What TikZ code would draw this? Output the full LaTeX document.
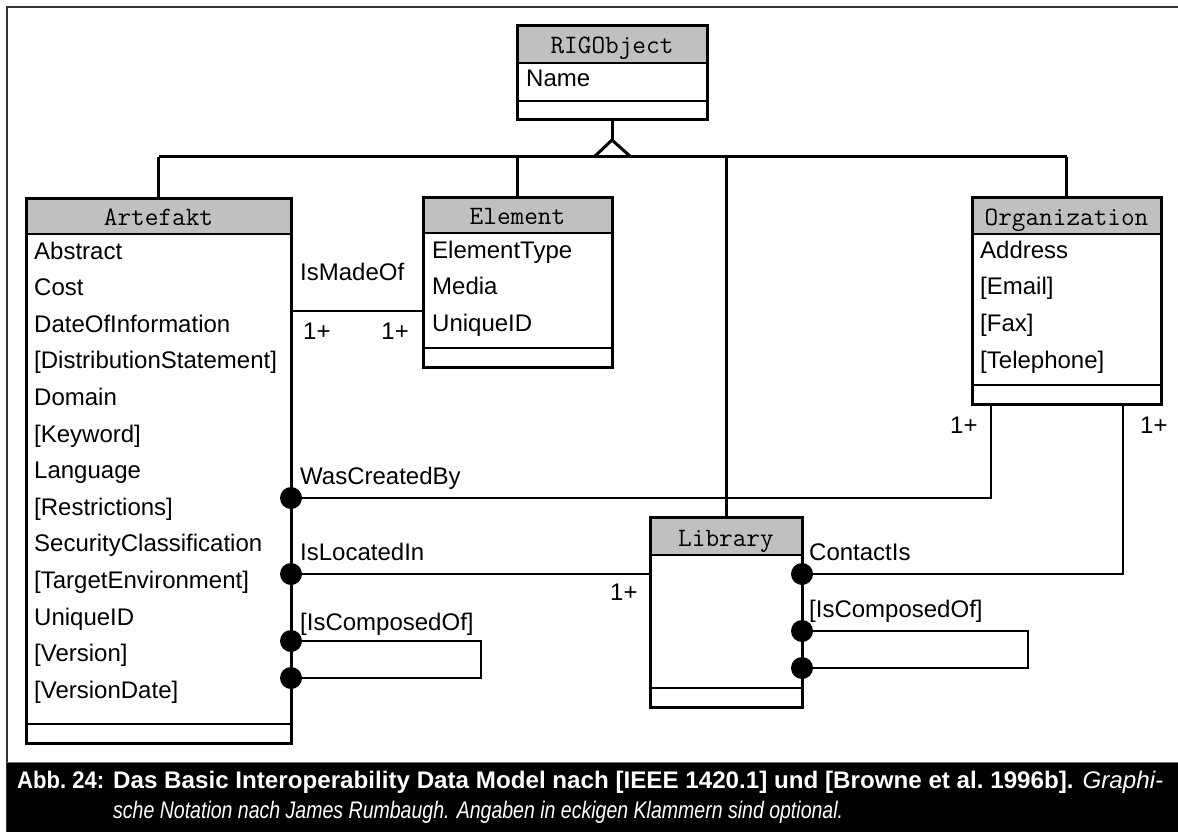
\documentclass[tikz,border=0pt]{standalone}
\usepackage{fontspec}
\setmainfont{Liberation Sans}
\usetikzlibrary{calc,fit}
\definecolor{hdrgray}{RGB}{192,192,192}

% class box: name, left, top, right, bottom, header bottom, separator, title
\newcommand{\umlclass}[8]{%
  \fill[hdrgray] (#2,#3) rectangle (#4,#6);
  \draw[sepline] (#2,#6) -- (#4,#6);
  \draw[sepline] (#2,#7) -- (#4,#7);
  \coordinate (#1-nw) at (#2,#3);
  \coordinate (#1-se) at (#4,#5);
  \node[classframe, fit=(#1-nw)(#1-se)] (#1) {};
  \node[classtitle] (#1-title) at ({(#2+#4)/2},{#6-9}) {#8};
}

\begin{document}
\begin{tikzpicture}[x=1pt,y=-1pt,
  classframe/.style={draw, line width=3pt, inner sep=0pt, outer sep=0pt},
  sepline/.style={line width=2pt},
  classtitle/.style={font=\fontsize{26.5}{26.5}\ttfamily, anchor=base, inner sep=0pt},
  attr/.style={font=\fontsize{24}{24}\selectfont, anchor=base west, inner sep=0pt},
  lbl/.style={font=\fontsize{24}{24}\selectfont, anchor=base west, inner sep=0pt},
  captext/.style={anchor=base west, inner sep=0pt, text=white},
  rel/.style={line width=1.6pt},
  inherit/.style={line width=3pt},
  ball/.style={fill=black}]

\useasboundingbox (0,0) rectangle (1178,832);
\fill[white] (0,0) rectangle (1178,832);

% outer frame
\draw[line width=2.5pt, black!80] (7,832) -- (7,7) -- (1178,7);

% classes
\umlclass{rig}{517}{26}{707}{120}{63}{101}{RIGObject}
\umlclass{art}{26}{198}{291}{743}{234}{724}{Artefakt}
\umlclass{elem}{423}{197}{612}{367}{233}{348}{Element}
\umlclass{org}{972}{197}{1161}{404}{234}{385}{Organization}
\umlclass{lib}{650}{517}{802}{707}{555}{688}{Library}

% attributes
\node[attr] (rig-a1) at (526,87) {Name};
\foreach \t [count=\i] in {{Abstract},{Cost},{DateOfInformation},{[DistributionStatement]},{Domain},{[Keyword]},{Language},{[Restrictions]},{SecurityClassification},{[TargetEnvironment]},{UniqueID},{[Version]},{[VersionDate]}}
  \node[attr] (art-a\i) at (34,{259+36.6*(\i-1)}) {\t};
\foreach \t [count=\i] in {{ElementType},{Media},{UniqueID}}
  \node[attr] (elem-a\i) at (432,{258+36.7*(\i-1)}) {\t};
\foreach \t [count=\i] in {{Address},{[Email]},{[Fax]},{[Telephone]}}
  \node[attr] (org-a\i) at (980,{258+36.7*(\i-1)}) {\t};

% generalisation
\coordinate (apex) at (612,140);
\coordinate (bar) at (612,157);
\draw[inherit] (rig.south) -- (apex);
\draw[inherit, line join=miter] (594,157) -- (apex) -- (631,157);
\draw[inherit] (art.north |- bar) -- (org.north |- bar);
\draw[inherit] (art.north |- bar) -- (art.north);
\draw[inherit] (elem.north |- bar) -- (elem.north);
\draw[inherit] (lib.north |- bar) -- (lib.north);
\draw[inherit] (org.north |- bar) -- (org.north);

% associations
\coordinate (orgL) at ([xshift=19pt]org.south west);
\coordinate (orgR) at ([xshift=-38pt]org.south east);

\draw[rel] (art.east |- 0,311) -- (elem.west |- 0,311);
\node[lbl] (madeof) at (300,280) {IsMadeOf};
\node[lbl] (m1) at (303,339) {1+};
\node[lbl, anchor=base east] (m2) at (409,339) {1+};

\draw[rel] (art.east |- 0,498) -| (orgL);
\fill[ball] (art.east |- 0,498) circle[radius=11pt];
\node[lbl] (created) at (300,484) {WasCreatedBy};
\node[lbl] (m3) at (950,433) {1+};

\draw[rel] (art.east |- 0,574) -- (lib.west |- 0,574);
\fill[ball] (art.east |- 0,574) circle[radius=11pt];
\node[lbl] (located) at (300,560) {IsLocatedIn};
\node[lbl] (m4) at (610,600) {1+};

\draw[rel] (art.east |- 0,641) -- ++(190,0) -- (481,678) -- (art.east |- 0,678);
\fill[ball] (art.east |- 0,641) circle[radius=11pt];
\fill[ball] (art.east |- 0,678) circle[radius=11pt];
\node[lbl] (artcomp) at (300,630) {[IsComposedOf]};

\draw[rel] (lib.east |- 0,574) -| (orgR);
\fill[ball] (lib.east |- 0,574) circle[radius=11pt];
\node[lbl] (contact) at (809,560) {ContactIs};
\node[lbl] (m5) at (1140,433) {1+};

\draw[rel] (lib.east |- 0,631) -- ++(226,0) -- (1028,668) -- (lib.east |- 0,668);
\fill[ball] (lib.east |- 0,631) circle[radius=11pt];
\fill[ball] (lib.east |- 0,668) circle[radius=11pt];
\node[lbl] (libcomp) at (809,617) {[IsComposedOf]};

% caption
\fill[black] (7,762) rectangle (1178,832);
\draw[line width=1pt, black!55] (7,762) -- (1178,762);
\node[captext] (capno) at (17,788)
  {\resizebox{87pt}{\height}{\fontsize{24}{24}\selectfont\bfseries Abb.\ 24:}};
\node[captext] (cap1) at (113,788)
  {\resizebox{1050pt}{\height}{\fontsize{24}{24}\selectfont\bfseries Das Basic Interoperability Data Model nach [IEEE 1420.1] und [Browne et al.\ 1996b]. \mdseries\itshape Graphi-}};
\node[captext] (cap2) at (113,818)
  {\resizebox{730pt}{\height}{\fontsize{24}{24}\selectfont\itshape sche Notation nach James Rumbaugh. Angaben in eckigen Klammern sind optional.}};
\end{tikzpicture}
\end{document}
